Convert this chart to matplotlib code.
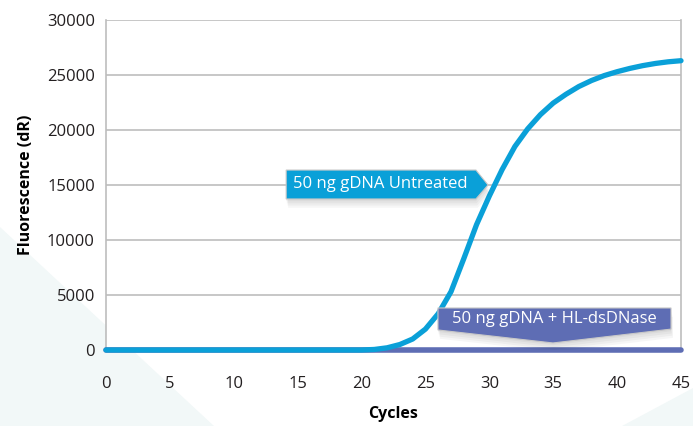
import numpy as np
import matplotlib.pyplot as plt
from matplotlib.patches import Polygon

# qPCR amplification curves
cycles = list(range(0, 46))
untreated = [0] * 21 + [50, 200, 500, 1000, 1900, 3300, 5300, 8300, 11400, 14000,
                        16400, 18500, 20100, 21400, 22450, 23250, 23950, 24500, 24950,
                        25300, 25600, 25850, 26050, 26200, 26300]
treated = [0] * 46

x_ticks = [0, 5, 10, 15, 20, 25, 30, 35, 40, 45]
y_ticks = [0, 5000, 10000, 15000, 20000, 25000, 30000]

label_untreated = "50 ng gDNA Untreated"
label_treated = "50 ng gDNA + HL-dsDNase"

cyan = '#0AA0D8'
purple = '#5E6DB4'
grid_gray = '#BDBDBD'
font = ['Open Sans', 'DejaVu Sans']

plt.rcParams['font.family'] = font

fig = plt.figure(figsize=(6.93, 4.26), dpi=100)

# faint background shapes behind the chart
bg = fig.add_axes([0, 0, 1, 1], zorder=0)
bg.set_xlim(0, 693)
bg.set_ylim(426, 0)
bg.axis('off')
bg.add_patch(Polygon([(0, 227), (200, 413), (214, 426), (0, 426)], closed=True,
                     facecolor='#F2F8F8', edgecolor='none'))
bg.add_patch(Polygon([(693, 388), (622, 426), (693, 426)], closed=True,
                     facecolor='#F2F8F8', edgecolor='none'))

ax = fig.add_axes([106 / 693, 1 - 350 / 426, 575 / 693, 330 / 426], zorder=1)
ax.set_facecolor('white')

ax.set_xlim(0, 45)
ax.set_ylim(0, 30000)
ax.set_xticks(x_ticks)
ax.set_yticks(y_ticks)
ax.tick_params(length=0, labelsize=12, colors='#231F20')
ax.tick_params(axis='x', pad=19)
ax.tick_params(axis='y', pad=8)
ax.grid(axis='y', color=grid_gray, linewidth=1.2)
ax.set_axisbelow(True)

for side in ['top', 'bottom']:
    ax.spines[side].set_visible(False)
for side in ['left', 'right']:
    ax.spines[side].set_color(grid_gray)
    ax.spines[side].set_linewidth(1.2)

ax.plot(cycles, treated, color=purple, linewidth=4, solid_capstyle='round',
        clip_on=False, zorder=3)
ax.plot(cycles, untreated, color=cyan, linewidth=3.8, solid_capstyle='round',
        solid_joinstyle='round', clip_on=False, zorder=4)

ax.set_xlabel('Cycles', fontsize=11.5, fontweight='bold', labelpad=10)
ax.set_ylabel('Fluorescence (dR)', fontsize=11.5, fontweight='bold', labelpad=9)


def callout(points, color, text, tx, ty):
    # soft drop shadow: a few stacked, slightly offset copies
    for k, dy in enumerate([200, 400, 600, 800]):
        shadow = [(px + 0.05 * k, py - dy) for px, py in points]
        ax.add_patch(Polygon(shadow, closed=True, facecolor='#000000', alpha=0.035,
                             edgecolor='none', zorder=5))
    ax.add_patch(Polygon(points, closed=True, facecolor=color, edgecolor='#C8C8C8',
                         linewidth=0.8, zorder=6))
    ax.text(tx, ty, text, color='white', fontsize=12, ha='center', va='center',
            zorder=7)


callout([(14.1, 16360), (28.95, 16360), (29.9, 15000), (28.95, 13730), (14.1, 13730)],
        cyan, label_untreated, 21.5, 15050)
callout([(25.98, 3820), (44.22, 3820), (44.22, 1900), (34.98, 640), (25.98, 1820)],
        purple, label_treated, 35.1, 2850)

fig.savefig('out.png', dpi=100)
